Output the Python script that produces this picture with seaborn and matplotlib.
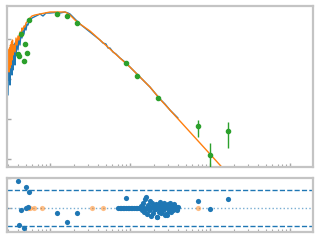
import numpy as np
import pandas as pd
import matplotlib
matplotlib.use("Agg")
import matplotlib.pyplot as plt
from matplotlib.ticker import NullLocator
import seaborn as sns

# ---- data (log10 wavelength [um], log10 flux) ----
spec_lx = [-0.525, -0.519, -0.5125, -0.506, -0.5, -0.494, -0.4875, -0.481, -0.475, -0.469,
           -0.4625, -0.456, -0.45, -0.444, -0.4375, -0.431, -0.425, -0.4125, -0.4, -0.3875,
           -0.375, -0.3625, -0.35, -0.3375, -0.325, -0.3125, -0.3, -0.2875, -0.275, -0.2625,
           -0.25, -0.2375, -0.225, -0.2, -0.175, -0.15, -0.125, -0.0875, -0.05, 0.0,
           0.0625, 0.125, 0.1875, 0.225, 0.25, 0.275, 0.3125, 0.375, 0.4375, 0.5,
           0.5625, 0.625, 0.6625, 0.7, 0.725, 0.75, 0.7875, 0.825, 0.875, 0.9375,
           1.0, 1.0625, 1.125, 1.1875, 1.25, 1.3125, 1.375, 1.4375, 1.5, 1.5625, 1.6]
spec_ly = [-13.4, -12.525, -13.025, -12.4, -13.15, -12.475, -12.825, -12.275, -12.9, -12.225,
           -12.775, -12.15, -12.575, -12.125, -12.65, -12.075, -12.4, -12.025, -12.275, -11.925,
           -12.15, -11.85, -11.975, -11.775, -11.875, -11.675, -11.775, -11.625, -11.65, -11.55,
           -11.525, -11.5, -11.475, -11.45, -11.425, -11.4, -11.375, -11.425, -11.35, -11.35,
           -11.3375, -11.35, -11.325, -11.35, -11.375, -11.425, -11.5, -11.625, -11.725, -11.825,
           -11.925, -12.025, -12.1, -12.125, -12.225, -12.225, -12.325, -12.375, -12.475, -12.575,
           -12.7, -12.825, -12.95, -13.075, -13.2, -13.35, -13.5, -13.625, -13.775, -13.9, -13.975]

model_lx = [-0.525, -0.519, -0.5125, -0.506, -0.5, -0.494, -0.4875, -0.481, -0.475, -0.469,
            -0.4625, -0.45, -0.4375, -0.425, -0.4125, -0.4, -0.3875, -0.375, -0.3625, -0.35,
            -0.3375, -0.325, -0.3125, -0.3, -0.2875, -0.275, -0.25, -0.225, -0.1875, -0.125,
            -0.0625, 0.0, 0.0625, 0.125, 0.1875, 0.2125, 0.25, 0.3125, 0.375, 0.5,
            0.625, 0.75, 0.875, 1.0, 1.125, 1.25, 1.375, 1.5, 1.625, 1.75,
            1.875, 2.0, 2.125, 2.25, 2.375]
model_ly = [-12.775, -12.275, -12.825, -12.225, -12.725, -12.15, -12.65, -12.075, -12.525, -12.025,
            -12.4, -12.15, -12.325, -11.975, -12.15, -11.925, -12.025, -11.825, -11.9, -11.725,
            -11.775, -11.675, -11.7, -11.6, -11.575, -11.525, -11.475, -11.425, -11.4, -11.375,
            -11.35, -11.325, -11.325, -11.325, -11.325, -11.35, -11.4, -11.525, -11.625, -11.8,
            -12.025, -12.25, -12.475, -12.7, -12.95, -13.2, -13.5, -13.775, -14.05, -14.325,
            -14.6, -14.875, -15.15, -15.425, -15.7]

phot_lx = [-0.4, -0.3875, -0.3625, -0.325, -0.3125, -0.2875, -0.2625, 0.0875, 0.2125, 0.3375,
           0.95, 1.0875, 1.35, 1.85, 2.0, 2.225]
phot_ly = [-12.375, -12.425, -11.875, -12.55, -12.125, -12.35, -11.525, -11.375, -11.425, -11.6,
           -12.6, -12.925, -13.475, -14.175, -14.9, -14.3]
phot_lo = [-12.39, -12.44, -11.89, -12.565, -12.14, -12.365, -11.54, -11.39, -11.44, -11.615,
           -12.615, -12.94, -13.49, -14.45, -15.325, -14.725]
phot_hi = [-12.36, -12.41, -11.86, -12.535, -12.11, -12.335, -11.51, -11.36, -11.41, -11.585,
           -12.585, -12.91, -13.46, -14.025, -14.6, -14.075]

# residuals (sigma)
res_lx = [-0.4, -0.3875, -0.3625, -0.325, -0.3, -0.3, -0.275, -0.2625, 0.0875, 0.2125,
          0.3375, 0.95, 1.3375, 1.45, 1.85, 2.0, 2.225]
res_r = [4.5, -2.83, -0.33, -3.33, 3.5, 0.0, 0.17, 2.67, -0.83, -2.33,
         -0.83, 1.67, -1.5, -1.0, 1.17, -0.17, 1.5]

blob_lx = [0.85, 0.87, 0.89, 0.91, 0.93, 0.95, 0.97, 0.99, 1.01, 1.03, 1.05, 1.07, 1.09, 1.11,
           1.1375, 1.15, 1.1625, 1.175, 1.1875, 1.2, 1.2125, 1.225, 1.2375, 1.25, 1.2625, 1.275,
           1.2875, 1.3, 1.3125, 1.325, 1.3375, 1.35, 1.3625, 1.375, 1.3875, 1.4, 1.4125, 1.425,
           1.4375, 1.45, 1.4625, 1.475, 1.4875, 1.5, 1.5125, 1.525, 1.5375, 1.55, 1.5625, 1.575,
           1.5875, 1.6, 1.16, 1.19, 1.22, 1.25, 1.28, 1.31, 1.34, 1.37, 1.40, 1.43, 1.46, 1.49,
           1.52, 1.55, 1.58]
blob_r = [0.0, 0.05, -0.05, 0.0, 0.05, -0.05, 0.0, 0.05, -0.05, 0.0, 0.05, -0.05, 0.0, 0.05,
          0.3, -0.3, 0.8, -0.6, 1.5, 1.8, -1.0, 0.5, -0.4, 1.2, -1.4, 0.9,
          -0.8, 0.3, -0.2, 0.7, -1.5, 0.5, -0.6, 1.0, -0.9, 0.4, -0.3, 0.8,
          -1.2, 0.2, -1.1, 0.6, -0.5, 0.9, -0.7, 0.3, -0.4, 0.6, -0.2, 0.2,
          -0.3, 0.1, 0.1, -0.2, 0.2, -0.1, 0.15, -0.2, 0.2, -0.15, 0.1, -0.1, 0.2, -0.2,
          0.1, -0.1, 0.0]

ores_lx = [-0.275, -0.25, -0.2, -0.1, 0.525, 0.6625, 1.85]
ores_r = [0, 0, 0, 0, 0, 0, 0]

# ---- build frames ----
spec = pd.DataFrame({"wl": 10 ** np.array(spec_lx), "f": 10 ** np.array(spec_ly)})
model = pd.DataFrame({"wl": 10 ** np.array(model_lx), "f": 10 ** np.array(model_ly)})
phot = pd.DataFrame({"wl": 10 ** np.array(phot_lx), "f": 10 ** np.array(phot_ly)})
yerr = np.array([phot["f"] - 10 ** np.array(phot_lo), 10 ** np.array(phot_hi) - phot["f"]])
res = pd.DataFrame({"wl": 10 ** np.array(res_lx + blob_lx), "r": res_r + blob_r})
ores = pd.DataFrame({"wl": 10 ** np.array(ores_lx), "r": ores_r})

sns.set_style("white")
plt.rcParams["font.family"] = ["DejaVu Sans"]

fig = plt.figure(figsize=(3.2, 2.4), dpi=100)
ax = fig.add_axes([0.0219, 0.304, 0.956, 0.671])
axr = fig.add_axes([0.0219, 0.0333, 0.956, 0.225])

C0, C1, C2 = sns.color_palette("tab10")[:3]

for a in (ax, axr):
    a.set_xscale("log")
ax.set_yscale("log")

sns.lineplot(data=spec, x="wl", y="f", ax=ax, color=C0, lw=1.0, sort=False, estimator=None)
sns.lineplot(data=model, x="wl", y="f", ax=ax, color=C1, lw=1.0, sort=False, estimator=None)
ax.errorbar(phot["wl"], phot["f"], yerr=yerr, fmt="o", color=C2, ms=3.0, elinewidth=1.0,
            capsize=0, zorder=5)

axr.axhline(3, color=C0, ls="--", lw=1.0)
axr.axhline(-3, color=C0, ls="--", lw=1.0)
axr.axhline(0, color=C0, ls=":", lw=1.0, alpha=0.6)
sns.scatterplot(data=ores, x="wl", y="r", ax=axr, color=C1, s=14, alpha=0.5, linewidth=0, zorder=3)
sns.scatterplot(data=res, x="wl", y="r", ax=axr, color=C0, s=14, linewidth=0, zorder=4)

xl = (10 ** -0.5375, 10 ** 3.2875)
ax.set_xlim(*xl)
axr.set_xlim(*xl)
ax.set_ylim(10 ** -15.2, 10 ** -11.175)
axr.set_ylim(-4, 5)
ax.yaxis.set_minor_locator(NullLocator())

for a in (ax, axr):
    a.set_xlabel("")
    a.set_ylabel("")
    for s in a.spines.values():
        s.set_color("#c4c4c4")
        s.set_linewidth(1.6)
        s.set_visible(True)
    a.tick_params(which="both", direction="in", color="#a8a8a8", labelleft=False,
                  labelbottom=False, left=True, bottom=True)
    a.tick_params(which="major", length=3, width=1)
    a.tick_params(which="minor", length=2, width=0.8)

fig.savefig("out.png", dpi=100)
